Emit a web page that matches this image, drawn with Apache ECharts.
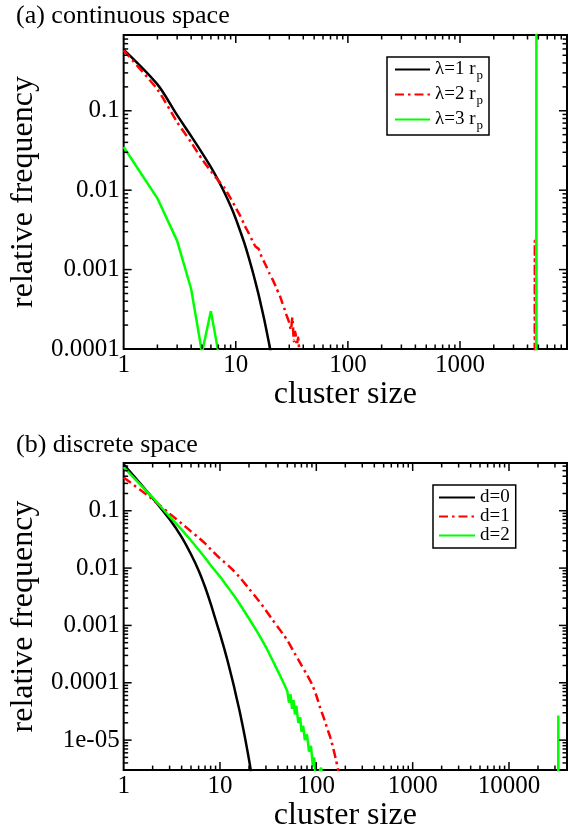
<!DOCTYPE html>
<html>
<head>
<meta charset="utf-8">
<script src="https://cdn.jsdelivr.net/npm/echarts@6/dist/echarts.min.js"></script>
<style>
  html, body { margin: 0; padding: 0; background: #fff; }
  #chart { width: 571px; height: 833px; }
</style>
</head>
<body>
<div id="chart"></div>
<script>
// panel (a) continuous space
const sizeA1 = [1, 2, 3, 4, 5, 6, 7, 8, 9, 10, 11, 12, 13, 14, 15, 16, 17, 18, 19, 20, 21]
const freqA1 = [0.59, 0.215, 0.088, 0.0479, 0.0295, 0.0195, 0.0132, 0.0091, 0.0063, 0.00437, 0.0030,
  0.0021, 0.00145, 0.0010, 0.00069, 0.00048, 0.00033, 0.00023, 0.000158, 0.00011, 0.000076]
const sizeA2 = [1, 2, 3, 4, 5, 6, 7, 8, 9, 10, 11, 12, 13, 14, 15, 16, 17, 18, 19, 20, 21, 22, 23, 24, 25,
  26, 27, 28, 29, 30, 31, 32, 33, 34, 35, 36, 37, null, 4630, 4650, 4670]
const freqA2 = [0.575, 0.186, 0.072, 0.040, 0.0245, 0.0174, 0.0132, 0.0105, 0.0079, 0.0060, 0.0047,
  0.0036, 0.0029, 0.00234, 0.00195, 0.00182, 0.00145, 0.00123, 0.00105, 0.00089, 0.00078, 0.00068, 0.00059,
  0.00051, 0.00045, 0.00038, 0.00033, 0.00028, 0.000245, 0.000214, 0.000175, 0.00025, 0.000125, 0.000165,
  0.000112, 0.00014, 0.00008, null, 0.000001, 0.0023, 0.000001]
const sizeA3 = [1, 2, 3, 4, 5, 6, 7, null, 4780, 4800, 4820]
const freqA3 = [0.035, 0.0079, 0.0023, 0.00057, 0.00009, 0.0003, 0.00009, null, 0.000001, 3, 0.000001]

// panel (b) discrete space
const sizeB0 = [1, 2, 3, 4, 5, 6, 7, 8, 9, 10, 11, 12, 13, 14, 15, 16, 17, 18, 19, 20, 21]
const freqB0 = [0.645, 0.166, 0.0708, 0.0347, 0.0174, 0.0091, 0.00468, 0.0024, 0.00126, 0.00071, 0.00041,
  0.00024, 0.000141, 0.000085, 0.000051, 0.000032, 0.0000195, 0.000012, 0.0000074, 0.0000046, 0.0000028]
const sizeB1 = [1, 2, 3, 4, 5, 6, 7, 8, 10, 13, 16, 20, 25, 30, 35, 40, 45, 50, 60, 70, 80, 90, 100,
  110, 120, 130, 140, 150, 160, 170]
const freqB1 = [0.38, 0.158, 0.089, 0.060, 0.0437, 0.0339, 0.0269, 0.0214, 0.0148, 0.0100, 0.0069,
  0.00437, 0.00275, 0.00182, 0.00126, 0.00093, 0.00071, 0.00055, 0.00032, 0.000204, 0.000138, 0.000095,
  0.00006, 0.000036, 0.000024, 0.0000158, 0.000011, 0.0000071, 0.0000045, 0.0000028]
const sizeB2 = [1, 2, 3, 4, 5, 6, 7, 8, 10, 12, 15, 20, 25, 30, 35, 40, 45, 50, 52, 54, 56, 58, 60, 62,
  65, 68, 70, 73, 76, 80, 84, 88, 92, 95, 98, 105, 112, 118, null, 32300, 32500, 32600]
const freqB2 = [0.575, 0.17, 0.0794, 0.0468, 0.0302, 0.0209, 0.0151, 0.0112, 0.0071, 0.0047, 0.0028,
  0.00132, 0.00072, 0.00042, 0.00025, 0.000158, 0.000105, 0.000071, 0.000045, 0.000063, 0.000035, 0.00005,
  0.000028, 0.00004, 0.00002, 0.000025, 0.000014, 0.0000178, 0.00001, 0.0000126, 0.0000063, 0.0000079,
  0.0000035, 0.000005, 0.0000022, 0.0000025, 0.0000033, 0.000002, null, 0.0000001, 0.000027, 0.0000001]

const namesA = ['λ=1 r', 'λ=2 r', 'λ=3 r']
const namesB = ['d=0', 'd=1', 'd=2']
const xLabels = ['1', '10', '100', '1000', '10000']
const yExp = [-5, -4, -3, -2, -1]
const yLabels = ['1e-05', '0.0001', '0.001', '0.01', '0.1']

const font = 'Liberation Serif'
const red = '#ff0000'
const green = '#00ff00'
const dashDot = [9, 4, 2.5, 4]

function pairs(xs, ys) {
    return xs.map((x, i) => (x === null ? ['-', '-'] : [x, ys[i]]))
}

function xAx(gi, max) {
    return {
        type: 'log', gridIndex: gi, min: 1, max: max,
        name: 'cluster size', nameLocation: 'middle', nameGap: 16,
        nameTextStyle: { fontFamily: font, fontSize: 32, color: '#000' },
        axisLine: { show: false }, axisTick: { show: false }, splitLine: { show: false },
        axisLabel: {
            fontFamily: font, fontSize: 25, color: '#000', margin: 4,
            showMinLabel: true, showMaxLabel: false,
            formatter: v => xLabels[Math.round(Math.log10(v))] || ''
        }
    }
}

function yAx(gi, min, max, showMin) {
    return {
        type: 'log', gridIndex: gi, min: min, max: max,
        name: 'relative frequency', nameLocation: 'middle', nameGap: 62, nameRotate: 90,
        nameTextStyle: { fontFamily: font, fontSize: 32, color: '#000' },
        axisLine: { show: false }, axisTick: { show: false }, splitLine: { show: false },
        axisLabel: {
            fontFamily: font, fontSize: 25, color: '#000', margin: 4,
            showMinLabel: showMin, showMaxLabel: false,
            formatter: v => {
                const k = yExp.indexOf(Math.round(Math.log10(v)))
                return k < 0 ? '' : yLabels[k]
            }
        }
    }
}

// inward ticks on all four sides, major at decades and minor at 2..9
function tickSeries(gi, xr, yr) {
    return {
        type: 'custom', xAxisIndex: gi, yAxisIndex: gi, silent: true, z: 5,
        data: [[xr[0], yr[0]]],
        renderItem: function (params, api) {
            const cs = params.coordSys
            const kids = []
            const seg = (x1, y1, x2, y2) => kids.push({
                type: 'line', shape: { x1, y1, x2, y2 }, style: { stroke: '#000', lineWidth: 1.5 }
            })
            for (let e = Math.floor(Math.log10(xr[0])); e <= Math.ceil(Math.log10(xr[1])); e++) {
                for (let m = 1; m <= 9; m++) {
                    const v = m * Math.pow(10, e)
                    if (v <= xr[0] * 1.0001 || v >= xr[1] * 0.9999) continue
                    const len = m === 1 ? 8 : 4.5
                    const px = api.coord([v, yr[0]])[0]
                    seg(px, cs.y + cs.height, px, cs.y + cs.height - len)
                    seg(px, cs.y, px, cs.y + len)
                }
            }
            for (let e = Math.floor(Math.log10(yr[0])); e <= Math.ceil(Math.log10(yr[1])); e++) {
                for (let m = 1; m <= 9; m++) {
                    const v = m * Math.pow(10, e)
                    if (v <= yr[0] * 1.0001 || v >= yr[1] * 0.9999) continue
                    const len = m === 1 ? 8 : 4.5
                    const py = api.coord([xr[0], v])[1]
                    seg(cs.x, py, cs.x + len, py)
                    seg(cs.x + cs.width, py, cs.x + cs.width - len, py)
                }
            }
            return { type: 'group', children: kids }
        }
    }
}

function line(name, gi, data, color, type, smooth) {
    return {
        name: name, type: 'line', xAxisIndex: gi, yAxisIndex: gi, data: data,
        symbol: 'none', showSymbol: false, connectNulls: false, clip: true, z: 3,
        smooth: smooth || false,
        lineStyle: { color: color, width: 2.5, type: type || 'solid', cap: 'butt' },
        itemStyle: { color: color }
    }
}

const xrA = [1, 9000], yrA = [0.0001, 0.9]
const xrB = [1, 40000], yrB = [0.000003, 0.68]

const chart = echarts.init(document.getElementById('chart'), null, { renderer: 'canvas' })
chart.setOption({
    animation: false,
    backgroundColor: '#fff',
    title: [
        { text: '(a) continuous space', left: 11, top: -2, textStyle: { fontFamily: font, fontSize: 26, fontWeight: 'normal', color: '#000' } },
        { text: '(b) discrete space', left: 11, top: 427, textStyle: { fontFamily: font, fontSize: 26, fontWeight: 'normal', color: '#000' } }
    ],
    grid: [
        { left: 119, top: 35, width: 448, height: 314, show: true, borderColor: '#000', borderWidth: 2 },
        { left: 119, top: 463, width: 448, height: 314, show: true, borderColor: '#000', borderWidth: 2 }
    ],
    xAxis: [xAx(0, xrA[1]), xAx(1, xrB[1])],
    yAxis: [yAx(0, yrA[0], yrA[1], true), yAx(1, yrB[0], yrB[1], false)],
    legend: [
        {
            data: namesA, left: 387, top: 57, orient: 'vertical', selectedMode: false,
            borderColor: '#000', borderWidth: 1.5, padding: [3, 6, 3, 7], itemGap: 3,
            itemWidth: 35, itemHeight: 14, itemStyle: { opacity: 0 },
            formatter: n => n + '{s|p}',
            textStyle: {
                fontFamily: font, fontSize: 19, color: '#000',
                rich: { s: { fontFamily: font, fontSize: 13, color: '#000', padding: [12, 0, 0, 1] } }
            }
        },
        {
            data: namesB, left: 433, top: 485, orient: 'vertical', selectedMode: false,
            borderColor: '#000', borderWidth: 1.5, padding: [3, 6, 3, 5], itemGap: 0,
            itemWidth: 36, itemHeight: 14, itemStyle: { opacity: 0 },
            textStyle: { fontFamily: font, fontSize: 19, color: '#000', lineHeight: 17 }
        }
    ],
    series: [
        tickSeries(0, xrA, yrA),
        tickSeries(1, xrB, yrB),
        line(namesA[0], 0, pairs(sizeA1, freqA1), '#000', 'solid', 0.3),
        line(namesA[1], 0, pairs(sizeA2, freqA2), red, dashDot, 0.2),
        line(namesA[2], 0, pairs(sizeA3, freqA3), green),
        line(namesB[0], 1, pairs(sizeB0, freqB0), '#000', 'solid', 0.3),
        line(namesB[1], 1, pairs(sizeB1, freqB1), red, dashDot, 0.3),
        line(namesB[2], 1, pairs(sizeB2, freqB2), green)
    ]
})
</script>
</body>
</html>
